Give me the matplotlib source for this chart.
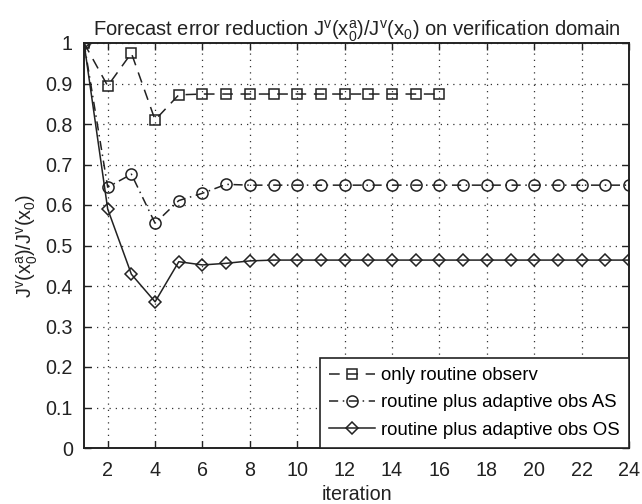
import matplotlib
matplotlib.use("Agg")
import matplotlib.pyplot as plt

plt.rcParams['font.family'] = ['Liberation Sans', 'DejaVu Sans']
plt.rcParams['mathtext.fontset'] = 'custom'
plt.rcParams['mathtext.rm'] = 'Liberation Sans'
plt.rcParams['mathtext.it'] = 'Liberation Sans'

iter_routine = list(range(1, 17))
only_routine = [1.0, 0.894, 0.975, 0.81, 0.872, 0.874, 0.874, 0.874, 0.874, 0.874,
                0.874, 0.874, 0.874, 0.874, 0.874, 0.874]

iter_adaptive = list(range(1, 25))
adaptive_AS = [1.0, 0.644, 0.676, 0.555, 0.611, 0.629, 0.651, 0.649, 0.649, 0.649,
               0.649, 0.649, 0.649, 0.649, 0.649, 0.649, 0.649, 0.649, 0.649, 0.649,
               0.649, 0.649, 0.649, 0.649]
adaptive_OS = [1.0, 0.590, 0.429, 0.361, 0.460, 0.452, 0.456, 0.462, 0.464, 0.464,
               0.464, 0.464, 0.464, 0.464, 0.464, 0.464, 0.464, 0.464, 0.464, 0.464,
               0.464, 0.464, 0.464, 0.464]

labels = ['only routine observ', 'routine plus adaptive obs AS', 'routine plus adaptive obs OS']
xticks = list(range(2, 25, 2))
yticks = [0, 0.1, 0.2, 0.3, 0.4, 0.5, 0.6, 0.7, 0.8, 0.9, 1]
yticklabels = ['0', '0.1', '0.2', '0.3', '0.4', '0.5', '0.6', '0.7', '0.8', '0.9', '1']

fs = 14.2
fig = plt.figure(figsize=(6.42, 5.04), dpi=100)
ax = fig.add_axes([84/642, 1-448/504, (629-84)/642, (448-43)/504])

lc = '#222222'
ax.plot(iter_adaptive, adaptive_OS, linestyle='-', color=lc, lw=1.1,
        marker='D', markersize=6.5, markerfacecolor='none', markeredgecolor=lc,
        markeredgewidth=1.1, label=labels[2], zorder=3)
ax.plot(iter_adaptive, adaptive_AS, linestyle=(0, (6, 3, 1, 3)), color=lc, lw=1.1,
        marker='o', markersize=8, markerfacecolor='none', markeredgecolor=lc,
        markeredgewidth=1.1, label=labels[1], zorder=4)
ax.plot(iter_routine, only_routine, linestyle=(0, (7, 5)), color=lc, lw=1.1,
        marker='s', markersize=7, markerfacecolor='none', markeredgecolor=lc,
        markeredgewidth=1.1, label=labels[0], zorder=5)

ax.set_xlim(1, 24)
ax.set_ylim(0, 1)
ax.set_xticks(xticks)
ax.set_yticks(yticks)
ax.set_yticklabels(yticklabels)
ax.tick_params(direction='in', top=True, right=True, labelsize=fs, length=5,
               width=1.0, colors='#222222')
ax.tick_params(axis='x', pad=9)
ax.tick_params(axis='y', pad=8)
for s in ax.spines.values():
    s.set_linewidth(1.4)
    s.set_color('#222222')
ax.grid(True, linestyle=(0, (1, 4)), color='#333333', linewidth=0.9)

ax.set_title(r'Forecast error reduction J$^{\mathrm{v}}$(x$_{0}^{\mathrm{a}}$)/J$^{\mathrm{v}}$(x$_{0}$) on verification domain',
             fontsize=14.5, pad=5, color='#222222')
ax.set_xlabel('iteration', fontsize=fs, labelpad=4, color='#222222')
ax.set_ylabel(r'J$^{\mathrm{v}}$(x$_{0}^{\mathrm{a}}$)/J$^{\mathrm{v}}$(x$_{0}$)',
              fontsize=fs, labelpad=4, color='#222222')

h, l = ax.get_legend_handles_labels()
leg = ax.legend(h[::-1], l[::-1], loc='lower right', fontsize=13.4, fancybox=False,
                edgecolor='#222222', framealpha=1, borderaxespad=0.0,
                handlelength=2.5, handletextpad=0.3, labelspacing=0.55,
                borderpad=0.5)
leg.get_frame().set_linewidth(1.2)

fig.savefig('out.png', dpi=100)
